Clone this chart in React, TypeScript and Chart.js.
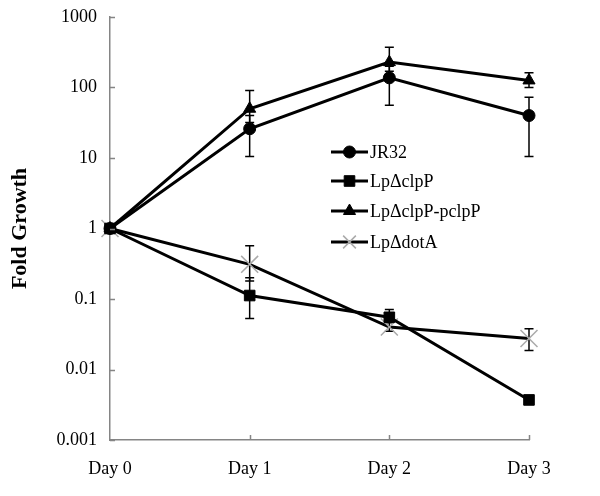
import React, { useEffect, useRef } from "react";
import { Chart, registerables } from "chart.js";
import { drawPoint } from "chart.js/helpers";

Chart.register(...registerables);

const categories = ["Day 0", "Day 1", "Day 2", "Day 3"];
const yTickValues = [0.001, 0.01, 0.1, 1, 10, 100, 1000];

const seriesNames = ["JR32", "Lp\u0394clpP", "Lp\u0394clpP-pclpP", "Lp\u0394dotA"];

const jr32 = [1, 26, 137, 40];
const jr32Low = [null, 10.5, 56, 10.5];
const jr32High = [null, 40, 200, 73];

const clpP = [1, 0.112, 0.055, 0.0037];
const clpPLow = [null, 0.053, 0.046, 0.0034];
const clpPHigh = [null, 0.2, 0.071, 0.004];

const pclpP = [1, 50, 229, 126];
const pclpPLow = [null, 32, 170, 100];
const pclpPHigh = [null, 91, 372, 162];

const dotA = [1, 0.31, 0.04, 0.0275];
const dotALow = [null, 0.18, 0.035, 0.0186];
const dotAHigh = [null, 0.57, 0.05, 0.038];

const FONT = "'Liberation Serif', 'Times New Roman', serif";

const errorBarPlugin = {
  id: "errorBars",
  beforeDatasetsDraw(chart: any) {
    const ctx = chart.ctx;
    const x = chart.scales.x;
    const y = chart.scales.y;
    ctx.save();
    ctx.strokeStyle = "#000";
    ctx.lineWidth = 1.5;
    chart.data.datasets.forEach((ds: any) => {
      const lows = ds.errLow || [];
      const highs = ds.errHigh || [];
      ds.data.forEach((_v: number, i: number) => {
        if (lows[i] == null || highs[i] == null) return;
        const px = x.getPixelForValue(i);
        const yl = y.getPixelForValue(lows[i]);
        const yh = y.getPixelForValue(highs[i]);
        const cap = 4.5;
        ctx.beginPath();
        ctx.moveTo(px, yl);
        ctx.lineTo(px, yh);
        ctx.moveTo(px - cap, yl);
        ctx.lineTo(px + cap, yl);
        ctx.moveTo(px - cap, yh);
        ctx.lineTo(px + cap, yh);
        ctx.stroke();
      });
    });
    ctx.restore();
  },
};

const innerTicksPlugin = {
  id: "innerTicks",
  afterDraw(chart: any) {
    const ctx = chart.ctx;
    const { left, bottom } = chart.chartArea;
    const x = chart.scales.x;
    const y = chart.scales.y;
    ctx.save();
    ctx.strokeStyle = "#858585";
    ctx.lineWidth = 1.5;
    ctx.beginPath();
    y.ticks.forEach((t: any) => {
      const py = Math.round(y.getPixelForValue(t.value)) + 0.5;
      ctx.moveTo(left, py);
      ctx.lineTo(left + 5, py);
    });
    x.ticks.forEach((_t: any, i: number) => {
      if (i === 0) return;
      const px = Math.round(x.getPixelForValue(i)) + 0.5;
      ctx.moveTo(px, bottom);
      ctx.lineTo(px, bottom - 5);
    });
    ctx.stroke();
    ctx.restore();
  },
};

const legendPlugin = {
  id: "customLegend",
  afterDraw(chart: any) {
    const ctx = chart.ctx;
    const x0 = 331;
    const x1 = 368;
    const rows = [152, 181, 211, 242];
    ctx.save();
    chart.data.datasets.forEach((ds: any, i: number) => {
      const yy = rows[i];
      ctx.strokeStyle = ds.borderColor;
      ctx.lineWidth = ds.borderWidth;
      ctx.beginPath();
      ctx.moveTo(x0, yy);
      ctx.lineTo(x1, yy);
      ctx.stroke();
      ctx.fillStyle = ds.pointBackgroundColor;
      ctx.strokeStyle = ds.pointBorderColor;
      ctx.lineWidth = ds.pointBorderWidth;
      const r = ds.pointStyle === "crossRot" ? 9 : ds.pointRadius;
      drawPoint(ctx, { pointStyle: ds.pointStyle, radius: r, rotation: 0, borderWidth: ds.pointBorderWidth }, (x0 + x1) / 2, yy);
      ctx.fillStyle = "#000";
      ctx.font = `18px ${FONT}`;
      ctx.textAlign = "left";
      ctx.textBaseline = "middle";
      ctx.fillText(ds.label, x1 + 2, yy + 1);
    });
    ctx.restore();
  },
};

export default function App() {
  const ref = useRef<HTMLCanvasElement | null>(null);
  useEffect(() => {
    document.body.style.margin = "0";
    if (!ref.current) return;
    const mk = (label: string, data: number[], low: any[], high: any[], style: string, radius: number, bw: number, pointColor: string, pointBorder: string, pbw: number) => ({
      label,
      data,
      errLow: low,
      errHigh: high,
      borderColor: "#000",
      borderWidth: bw,
      pointStyle: style,
      pointRadius: radius,
      pointBackgroundColor: pointColor,
      pointBorderColor: pointBorder,
      pointBorderWidth: pbw,
      pointHoverRadius: radius,
      tension: 0,
      clip: false,
      fill: false,
    });
    const chart = new Chart(ref.current, {
      type: "line",
      data: {
        labels: categories,
        datasets: [
          mk(seriesNames[0], jr32, jr32Low, jr32High, "circle", 6, 3, "#000", "#000", 1),
          mk(seriesNames[1], clpP, clpPLow, clpPHigh, "rect", 7.5, 3, "#000", "#000", 1),
          mk(seriesNames[2], pclpP, pclpPLow, pclpPHigh, "triangle", 7, 3, "#000", "#000", 1),
          mk(seriesNames[3], dotA, dotALow, dotAHigh, "crossRot", 12, 3, "#aaaaaa", "#aaaaaa", 1.5),
        ] as any,
      },
      options: {
        responsive: false,
        animation: false,
        events: [],
        layout: { padding: { left: 0, right: 71, top: 17, bottom: 0 } },
        plugins: { legend: { display: false }, tooltip: { enabled: false } },
        scales: {
          x: {
            type: "category",
            offset: false,
            grid: { display: false, drawTicks: false },
            border: { display: true, color: "#858585", width: 1.5 },
            ticks: { color: "#000", font: { family: FONT, size: 18 }, padding: 18, maxRotation: 0, autoSkip: false },
            afterFit: (s: any) => { s.height = 56; s.paddingLeft = 0; s.paddingRight = 0; },
          },
          y: {
            type: "logarithmic",
            min: 0.001,
            max: 1000,
            grid: { display: false, drawTicks: false },
            border: { display: true, color: "#858585", width: 1.5 },
            afterBuildTicks: (s: any) => { s.ticks = yTickValues.map((v) => ({ value: v })); },
            ticks: {
              color: "#000",
              font: { family: FONT, size: 18 },
              padding: 13,
              callback: (v: any) => String(Number(v)),
            },
            title: {
              display: true,
              text: "Fold Growth",
              color: "#000",
              font: { family: FONT, size: 22, weight: "bold" },
              padding: { top: 7, bottom: 0 },
            },
            afterFit: (s: any) => { s.width = 110; s.paddingTop = 0; s.paddingBottom = 0; },
          },
        },
      },
      plugins: [errorBarPlugin, innerTicksPlugin, legendPlugin],
    } as any);
    return () => chart.destroy();
  }, []);
  return (
    <div style={{ width: 600, height: 496, background: "#fff" }}>
      <canvas ref={ref} width={600} height={496} />
    </div>
  );
}
